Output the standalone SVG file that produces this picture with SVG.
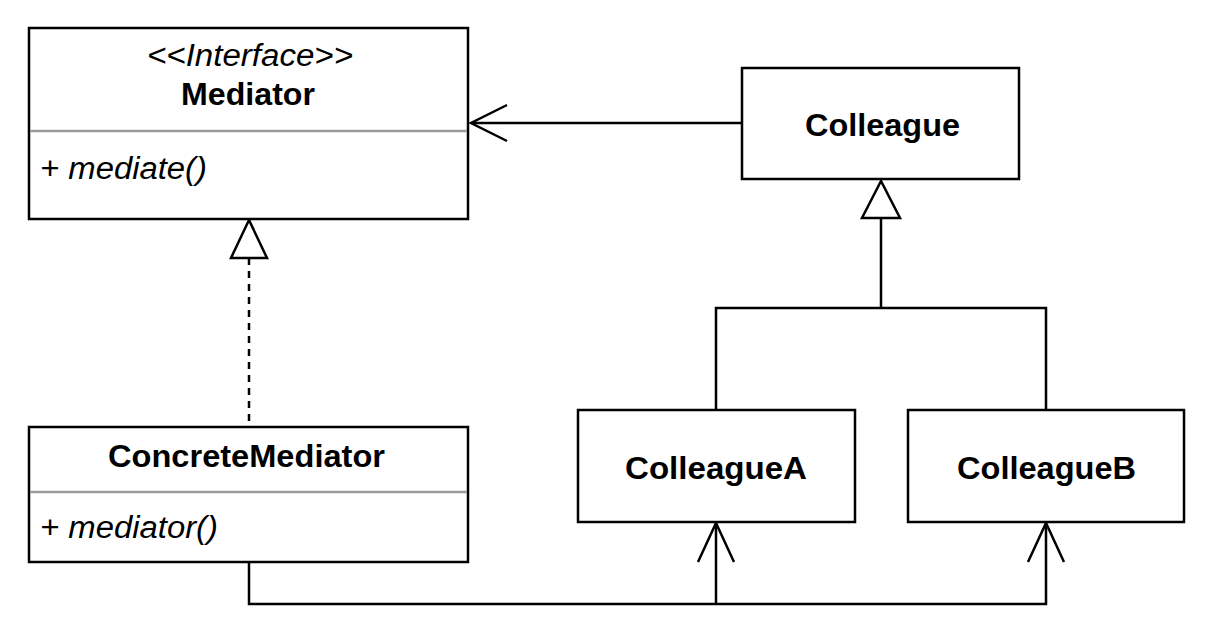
<svg xmlns="http://www.w3.org/2000/svg" width="1211" height="633" viewBox="0 0 1211 633">
  <style>
    .box { fill: #fff; stroke: #000; stroke-width: 2.5; }
    .sep { stroke: #9a9a9a; stroke-width: 2.5; }
    .line { fill: none; stroke: #000; stroke-width: 2.5; }
    .dash { stroke-dasharray: 7 6; }
    .head { fill: #fff; stroke: #000; stroke-width: 2.5; stroke-linejoin: miter; }
    .open { fill: none; stroke: #000; stroke-width: 2.5; }
    text { font-family: "Liberation Sans", Arial, Helvetica, sans-serif; font-size: 31px; fill: #000; }
    .title { font-weight: bold; }
    .stereo, .member { font-style: italic; }
  </style>

  <g id="connectors">
    <!-- Colleague to Mediator association -->
    <line class="line" x1="741" y1="123" x2="471" y2="123"/>
    <polyline class="open" points="507,105 471,123 507,141"/>

    <!-- ConcreteMediator realizes Mediator -->
    <line class="line dash" x1="249" y1="258" x2="249" y2="427"/>
    <polygon class="head" points="249,220 231,258 267,258"/>

    <!-- ColleagueA / ColleagueB generalize Colleague -->
    <polyline class="line" points="716,410 716,308 1046,308 1046,410"/>
    <line class="line" x1="881" y1="218" x2="881" y2="308"/>
    <polygon class="head" points="881,181 862,218 900,218"/>

    <!-- ConcreteMediator to ColleagueA and ColleagueB -->
    <polyline class="line" points="249,562 249,604 1046,604 1046,523"/>
    <line class="line" x1="716" y1="604" x2="716" y2="523"/>
    <polyline class="open" points="698,562 716,523 734,562"/>
    <polyline class="open" points="1028,562 1046,523 1064,562"/>
  </g>

  <g id="mediator">
    <rect class="box" x="29" y="28" width="439" height="191"/>
    <line class="sep" x1="30" y1="131" x2="467" y2="131"/>
    <text class="stereo" x="147" y="66" textLength="206" lengthAdjust="spacingAndGlyphs">&lt;&lt;Interface&gt;&gt;</text>
    <text class="title" x="181" y="105" textLength="134" lengthAdjust="spacingAndGlyphs">Mediator</text>
    <text class="member" x="40" y="179" textLength="167" lengthAdjust="spacingAndGlyphs">+ mediate()</text>
  </g>

  <g id="colleague">
    <rect class="box" x="742" y="68" width="277" height="111"/>
    <text class="title" x="805" y="136" textLength="155" lengthAdjust="spacingAndGlyphs">Colleague</text>
  </g>

  <g id="concrete-mediator">
    <rect class="box" x="29" y="427" width="439" height="135"/>
    <line class="sep" x1="30" y1="492" x2="467" y2="492"/>
    <text class="title" x="108" y="467" textLength="277" lengthAdjust="spacingAndGlyphs">ConcreteMediator</text>
    <text class="member" x="40" y="538" textLength="178" lengthAdjust="spacingAndGlyphs">+ mediator()</text>
  </g>

  <g id="colleague-a">
    <rect class="box" x="578" y="410" width="277" height="112"/>
    <text class="title" x="625" y="479" textLength="182" lengthAdjust="spacingAndGlyphs">ColleagueA</text>
  </g>

  <g id="colleague-b">
    <rect class="box" x="908" y="410" width="276" height="112"/>
    <text class="title" x="957" y="479" textLength="179" lengthAdjust="spacingAndGlyphs">ColleagueB</text>
  </g>
</svg>
